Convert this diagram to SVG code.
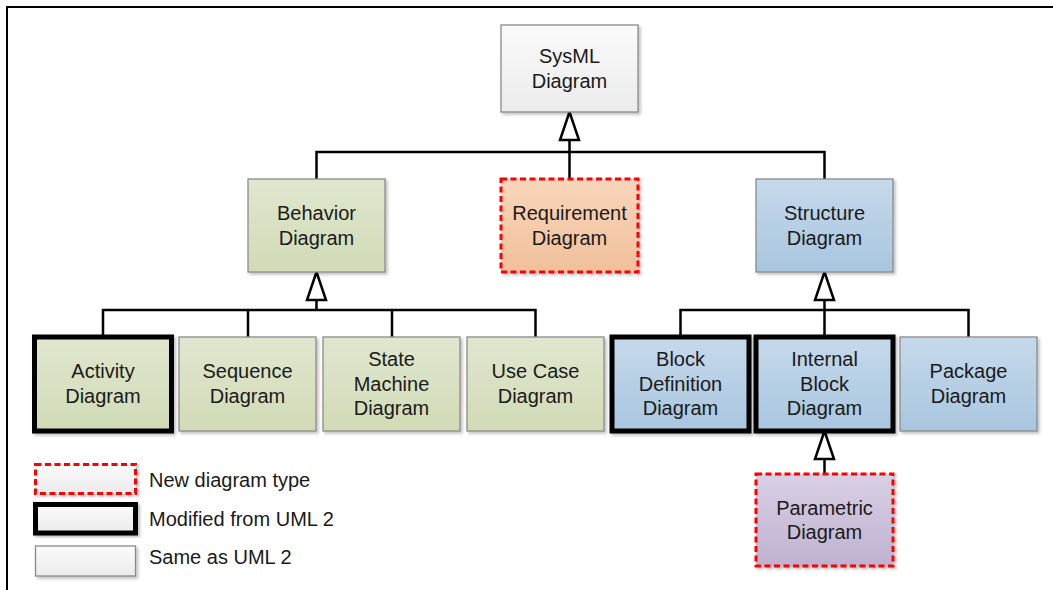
<svg xmlns="http://www.w3.org/2000/svg" width="1053" height="590" viewBox="0 0 1053 590">
<defs>
<linearGradient id="gGray" x1="0" y1="0" x2="0" y2="1"><stop offset="0" stop-color="#fbfbfb"/><stop offset="1" stop-color="#ebebeb"/></linearGradient>
<linearGradient id="gGreen" x1="0" y1="0" x2="0" y2="1"><stop offset="0" stop-color="#e0e7cf"/><stop offset="1" stop-color="#d1dbb6"/></linearGradient>
<linearGradient id="gOrange" x1="0" y1="0" x2="0" y2="1"><stop offset="0" stop-color="#f8d6bb"/><stop offset="1" stop-color="#f1c09b"/></linearGradient>
<linearGradient id="gBlue" x1="0" y1="0" x2="0" y2="1"><stop offset="0" stop-color="#c6d9eb"/><stop offset="1" stop-color="#a8c6df"/></linearGradient>
<linearGradient id="gPurple" x1="0" y1="0" x2="0" y2="1"><stop offset="0" stop-color="#d8d0e4"/><stop offset="1" stop-color="#bfb2d1"/></linearGradient>
<filter id="sh" x="-10%" y="-10%" width="125%" height="125%"><feDropShadow dx="2" dy="2" stdDeviation="1.5" flood-color="#000" flood-opacity="0.25"/></filter>
</defs>
<style>
.box{stroke:#8a8a8a;stroke-width:1.3;filter:url(#sh)}
.thick{stroke:#000;stroke-width:5;filter:url(#sh)}
.new{stroke:#ff0000;stroke-width:3;stroke-dasharray:6 3.5;filter:url(#sh)}
text{font-family:"Liberation Sans",Arial,sans-serif;font-size:20px;fill:#1a1a1a;text-anchor:middle}
.leg{text-anchor:start}
.ln{fill:none;stroke:#000;stroke-width:2.5}
.tri{fill:#fff;stroke:#000;stroke-width:2.5;stroke-linejoin:miter}
.frame{fill:none;stroke:#000;stroke-width:2}
</style>
<path class="frame" d="M7 590 V7 H1053"/>
<g id="connectors">
<path class="ln" d="M569.5 140 V179 M316.5 179 V152 H824.5 V179"/>
<polygon class="tri" points="569.5,112 560,140 579,140"/>
<path class="ln" d="M316.5 300 V310 M103 337 V310 H535.5 V337 M248 310 V337 M392 310 V337"/>
<polygon class="tri" points="316.5,272 307,300 326,300"/>
<path class="ln" d="M824.5 300 V337 M680.5 337 V310 H968.5 V337"/>
<polygon class="tri" points="824.5,272 815,300 834,300"/>
<path class="ln" d="M824.5 459 V474"/>
<polygon class="tri" points="824.5,431 815,459 834,459"/>
</g>
<g id="sysml"><rect class="box" x="501" y="25" width="137" height="87" fill="url(#gGray)"/><text x="569.5" y="63">SysML</text><text x="569.5" y="88">Diagram</text></g>
<g id="behavior"><rect class="box" x="248" y="179" width="137" height="93" fill="url(#gGreen)"/><text x="316.5" y="220">Behavior</text><text x="316.5" y="245">Diagram</text></g>
<g id="requirement"><rect class="new" x="501" y="179" width="137" height="93" fill="url(#gOrange)"/><text x="569.5" y="220">Requirement</text><text x="569.5" y="245">Diagram</text></g>
<g id="structure"><rect class="box" x="756" y="179" width="137" height="93" fill="url(#gBlue)"/><text x="824.5" y="220">Structure</text><text x="824.5" y="245">Diagram</text></g>
<g id="activity"><rect class="thick" x="34.5" y="337" width="137" height="94" fill="url(#gGreen)"/><text x="103" y="378">Activity</text><text x="103" y="402.5">Diagram</text></g>
<g id="sequence"><rect class="box" x="179" y="337" width="137" height="94" fill="url(#gGreen)"/><text x="247.5" y="378">Sequence</text><text x="247.5" y="402.5">Diagram</text></g>
<g id="statemachine"><rect class="box" x="323" y="337" width="137" height="94" fill="url(#gGreen)"/><text x="391.5" y="366">State</text><text x="391.5" y="390.5">Machine</text><text x="391.5" y="415">Diagram</text></g>
<g id="usecase"><rect class="box" x="467" y="337" width="137" height="94" fill="url(#gGreen)"/><text x="535.5" y="378">Use Case</text><text x="535.5" y="402.5">Diagram</text></g>
<g id="blockdef"><rect class="thick" x="612" y="337" width="137" height="94" fill="url(#gBlue)"/><text x="680.5" y="366">Block</text><text x="680.5" y="390.5">Definition</text><text x="680.5" y="415">Diagram</text></g>
<g id="internalblock"><rect class="thick" x="756" y="337" width="137" height="94" fill="url(#gBlue)"/><text x="824.5" y="366">Internal</text><text x="824.5" y="390.5">Block</text><text x="824.5" y="415">Diagram</text></g>
<g id="package"><rect class="box" x="900" y="337" width="137" height="94" fill="url(#gBlue)"/><text x="968.5" y="378">Package</text><text x="968.5" y="402.5">Diagram</text></g>
<g id="parametric"><rect class="new" x="756" y="474" width="137" height="92" fill="url(#gPurple)"/><text x="824.5" y="514.5">Parametric</text><text x="824.5" y="539">Diagram</text></g>
<g id="legend">
<rect class="new" x="35.5" y="464.5" width="100" height="29" fill="url(#gGray)"/>
<text class="leg" x="149" y="487">New diagram type</text>
<rect class="thick" x="35.5" y="504.5" width="100" height="28.5" fill="url(#gGray)"/>
<text class="leg" x="149" y="526">Modified from UML 2</text>
<rect class="box" x="35.5" y="546" width="100" height="30" fill="url(#gGray)"/>
<text class="leg" x="149" y="564">Same as UML 2</text>
</g>
</svg>
